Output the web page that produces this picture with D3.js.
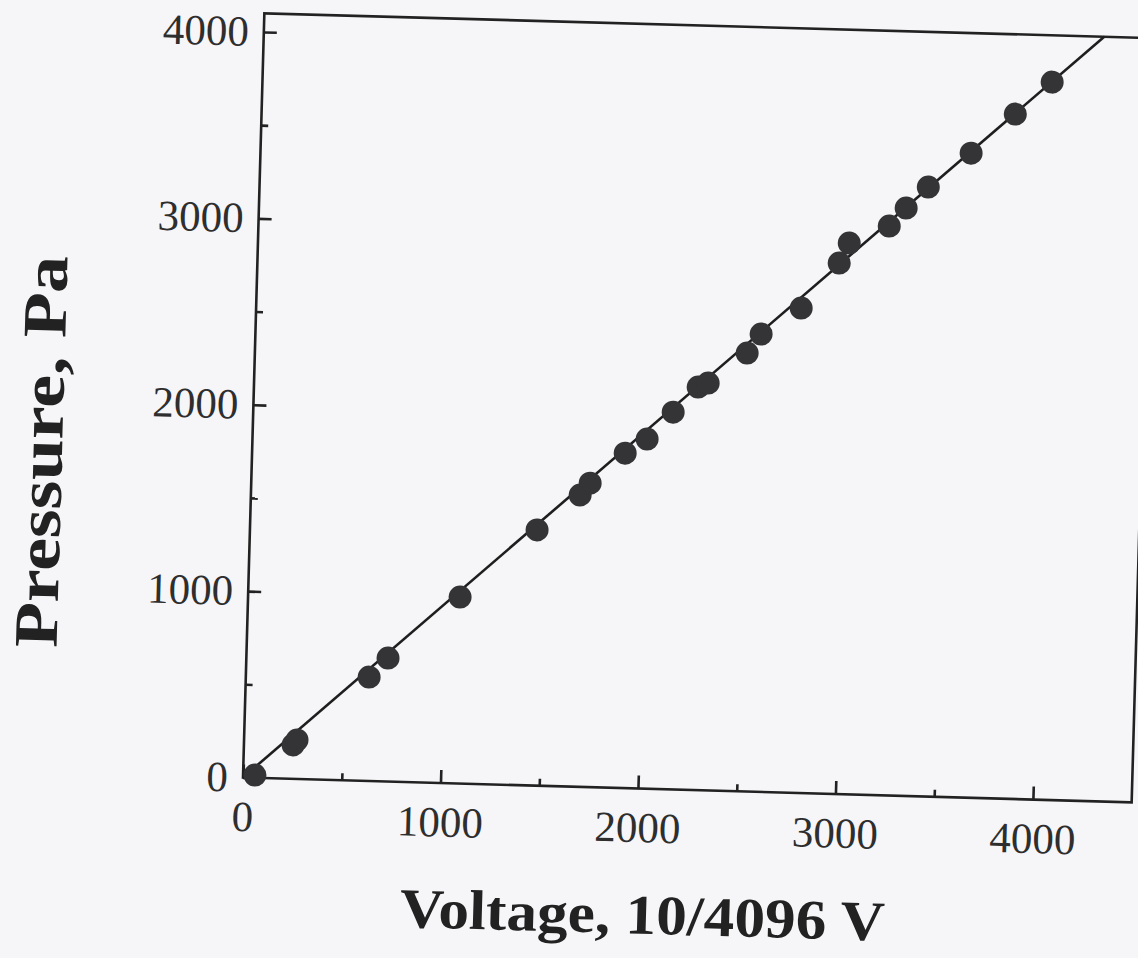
<!DOCTYPE html>
<html>
<head>
<meta charset="utf-8">
<script src="https://cdn.jsdelivr.net/npm/d3@7"></script>
<style>
  body { margin: 0; background: #f6f5f8; }
  svg { display: block; }
</style>
</head>
<body>
<div id="viz"></div>
<script>
// calibration points: sensor reading (10/4096 V) vs pressure (Pa)
const voltage = [60, 249, 268, 624, 717, 1073, 1453, 1666, 1715, 1888, 1997, 2125, 2248, 2298,
  2491, 2559, 2758, 2944, 2992, 3192, 3275, 3384, 3596, 3814, 3996];
const pressure = [15, 182, 209, 557, 662, 1000, 1371, 1565, 1630, 1796, 1875, 2023, 2161, 2184,
  2351, 2455, 2600, 2847, 2956, 3053, 3152, 3268, 3456, 3672, 3849];

const xMajorTicks = [0, 1000, 2000, 3000, 4000];
const xMinorTicks = [500, 1500, 2500, 3500];
const yMajorTicks = [0, 1000, 2000, 3000, 4000];
const yMinorTicks = [500, 1500, 2500, 3500];

// linear fit through the origin
const fitSlope = 0.964;

const xTitle = "Voltage, 10/4096 V";
const yTitle = "Pressure, Pa";

let width = 1138;
let height = 958;
let margin = { top: 13, right: 6, bottom: 180.5, left: 243 };
let tilt = 1.6; // the scanned page sits a little crooked

let svg = d3.select("#viz")
  .append("svg")
  .attr("width", width)
  .attr("height", height);

let xScale = d3.scaleLinear()
  .domain([0, 4500])
  .range([margin.left, width - margin.right]);

let yScale = d3.scaleLinear()
  .domain([0, 4100])
  .range([height - margin.bottom, margin.top]);

let chart = svg.append("g")
  .attr("transform", `rotate(${tilt}, ${xScale(0)}, ${yScale(0)})`);

let font = "'Liberation Serif', 'Times New Roman', serif";

// frame
chart.append("rect")
  .attr("x", xScale(0))
  .attr("y", yScale(4100))
  .attr("width", xScale(4500) - xScale(0))
  .attr("height", yScale(0) - yScale(4100))
  .attr("fill", "none")
  .attr("stroke", "#222")
  .attr("stroke-width", 2.6);

function xAxis(g, ticks, size, labels) {
  g.attr("transform", `translate(0, ${yScale(0)})`)
    .call(d3.axisBottom(xScale).tickValues(ticks).tickSize(-size).tickPadding(23)
      .tickFormat(labels ? d3.format("d") : ""))
    .call(g => g.select(".domain").remove())
    .call(g => g.selectAll("line").attr("stroke", "#222").attr("stroke-width", 2.6))
    .call(g => g.selectAll("text").attr("fill", "#2e2e2e"))
    .attr("font-family", font)
    .attr("font-size", 43);
}

function yAxis(g, ticks, size, labels) {
  g.attr("transform", `translate(${xScale(0)}, 0)`)
    .call(d3.axisLeft(yScale).tickValues(ticks).tickSize(-size).tickPadding(15)
      .tickFormat(labels ? d3.format("d") : ""))
    .call(g => g.select(".domain").remove())
    .call(g => g.selectAll("line").attr("stroke", "#222").attr("stroke-width", 2.6))
    .call(g => g.selectAll("text").attr("fill", "#2e2e2e"))
    .attr("font-family", font)
    .attr("font-size", 43);
}

chart.append("g").call(xAxis, xMinorTicks, 7, false);
chart.append("g").call(xAxis, xMajorTicks, 13, true);
chart.append("g").call(yAxis, yMinorTicks, 7, false);
chart.append("g").call(yAxis, yMajorTicks, 13, true);

// fitted line, clipped at the top of the frame
let fitEnd = yScale.domain()[1] / fitSlope;
chart.append("path")
  .datum([0, fitEnd])
  .attr("fill", "none")
  .attr("stroke", "#1e1e1e")
  .attr("stroke-width", 2.6)
  .attr("d", d3.line().x(d => xScale(d)).y(d => yScale(d * fitSlope)));

// measured points
chart.append("g")
  .attr("fill", "#343336")
  .selectAll("circle")
  .data(voltage.map((v, i) => ({ v: v, p: pressure[i] })))
  .join("circle")
  .attr("cx", d => xScale(d.v))
  .attr("cy", d => yScale(d.p))
  .attr("r", 11.5);

// axis titles
chart.append("text")
  .attr("x", xScale(0) + 403)
  .attr("y", yScale(0) + 145)
  .attr("text-anchor", "middle")
  .attr("font-family", font)
  .attr("font-weight", "bold")
  .attr("font-size", 56)
  .attr("textLength", 485)
  .attr("lengthAdjust", "spacingAndGlyphs")
  .attr("fill", "#222")
  .text(xTitle);

chart.append("text")
  .attr("transform", `translate(${xScale(0) - 190}, ${(yScale(0) + yScale(4100)) / 2 + 62}) rotate(-90)`)
  .attr("text-anchor", "middle")
  .attr("font-family", font)
  .attr("font-weight", "bold")
  .attr("font-size", 62)
  .attr("textLength", 392)
  .attr("lengthAdjust", "spacingAndGlyphs")
  .attr("fill", "#222")
  .text(yTitle);
</script>
</body>
</html>
